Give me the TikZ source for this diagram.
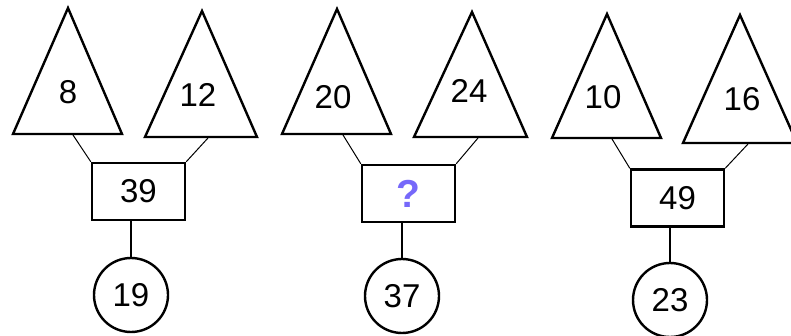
\documentclass[tikz,border=0pt]{standalone}
\usepackage{fontspec}
\setmainfont{Liberation Sans}
\definecolor{qblue}{RGB}{118,104,250}
\begin{document}
\begin{tikzpicture}[x=1pt,y=-1pt,
    tri/.style={draw,line width=2.4pt,line join=miter},
    box/.style={draw,line width=2.4pt,minimum width=93pt,minimum height=57pt,inner sep=0pt},
    ring/.style={draw,circle,line width=2.4pt,minimum size=74pt,inner sep=0pt},
    num/.style={font=\fontsize{33}{33}\selectfont},
    link/.style={line width=1pt},
    stem/.style={line width=2.4pt}]
  \useasboundingbox (0,0) rectangle (791,336);
  \clip (0,0) rectangle (791,336);
  % triangles
  \draw[tri] (68,8) -- (122,134) -- (13,134) -- cycle;
  \draw[tri] (202,11) -- (257,137) -- (145,137) -- cycle;
  \draw[tri] (337,9) -- (391,134) -- (282,134) -- cycle;
  \draw[tri] (472,12) -- (527,137) -- (414,137) -- cycle;
  \draw[tri] (607,14) -- (661,138) -- (552,138) -- cycle;
  \draw[tri] (740,15) -- (797,143) -- (683,143) -- cycle;
  \draw
    (68,92) node[num] (t8){8}
    (198,95) node[num] (t12){12}
    (333,97) node[num] (t20){20}
    (469,91) node[num] (t24){24}
    (603,97) node[num] (t10){10}
    (742,99) node[num] (t16){16};
  % boxes and rings
  \draw
    (138.5,191.5) node[box,num] (r1){39}
    (408.5,193.5) node[box,font=\bfseries\fontsize{39}{39}\selectfont,text=qblue] (r2){?}
    (677.5,198) node[box,num] (r3){49}
    (131,295) node[ring,num] (o1){19}
    (402,296) node[ring,num] (o2){37}
    (670,300) node[ring,num] (o3){23};
  \coordinate (a1) at (73,135);
  \coordinate (b1) at (208,138);
  \coordinate (a2) at (343,135);
  \coordinate (b2) at (478,138);
  \coordinate (a3) at (612,139);
  \coordinate (b3) at (748,144);
  \begin{scope}[link]
    \draw (a1) to (r1.north west);
    \draw (b1) to (r1.north east);
    \draw (a2) to (r2.north west);
    \draw (b2) to (r2.north east);
    \draw (a3) to (r3.north west);
    \draw (b3) to (r3.north east);
  \end{scope}
  \begin{scope}[stem]
    \draw (o1.north) to (o1.north |- r1.south);
    \draw (o2.north) to (o2.north |- r2.south);
    \draw (o3.north) to (o3.north |- r3.south);
  \end{scope}
\end{tikzpicture}
\end{document}
